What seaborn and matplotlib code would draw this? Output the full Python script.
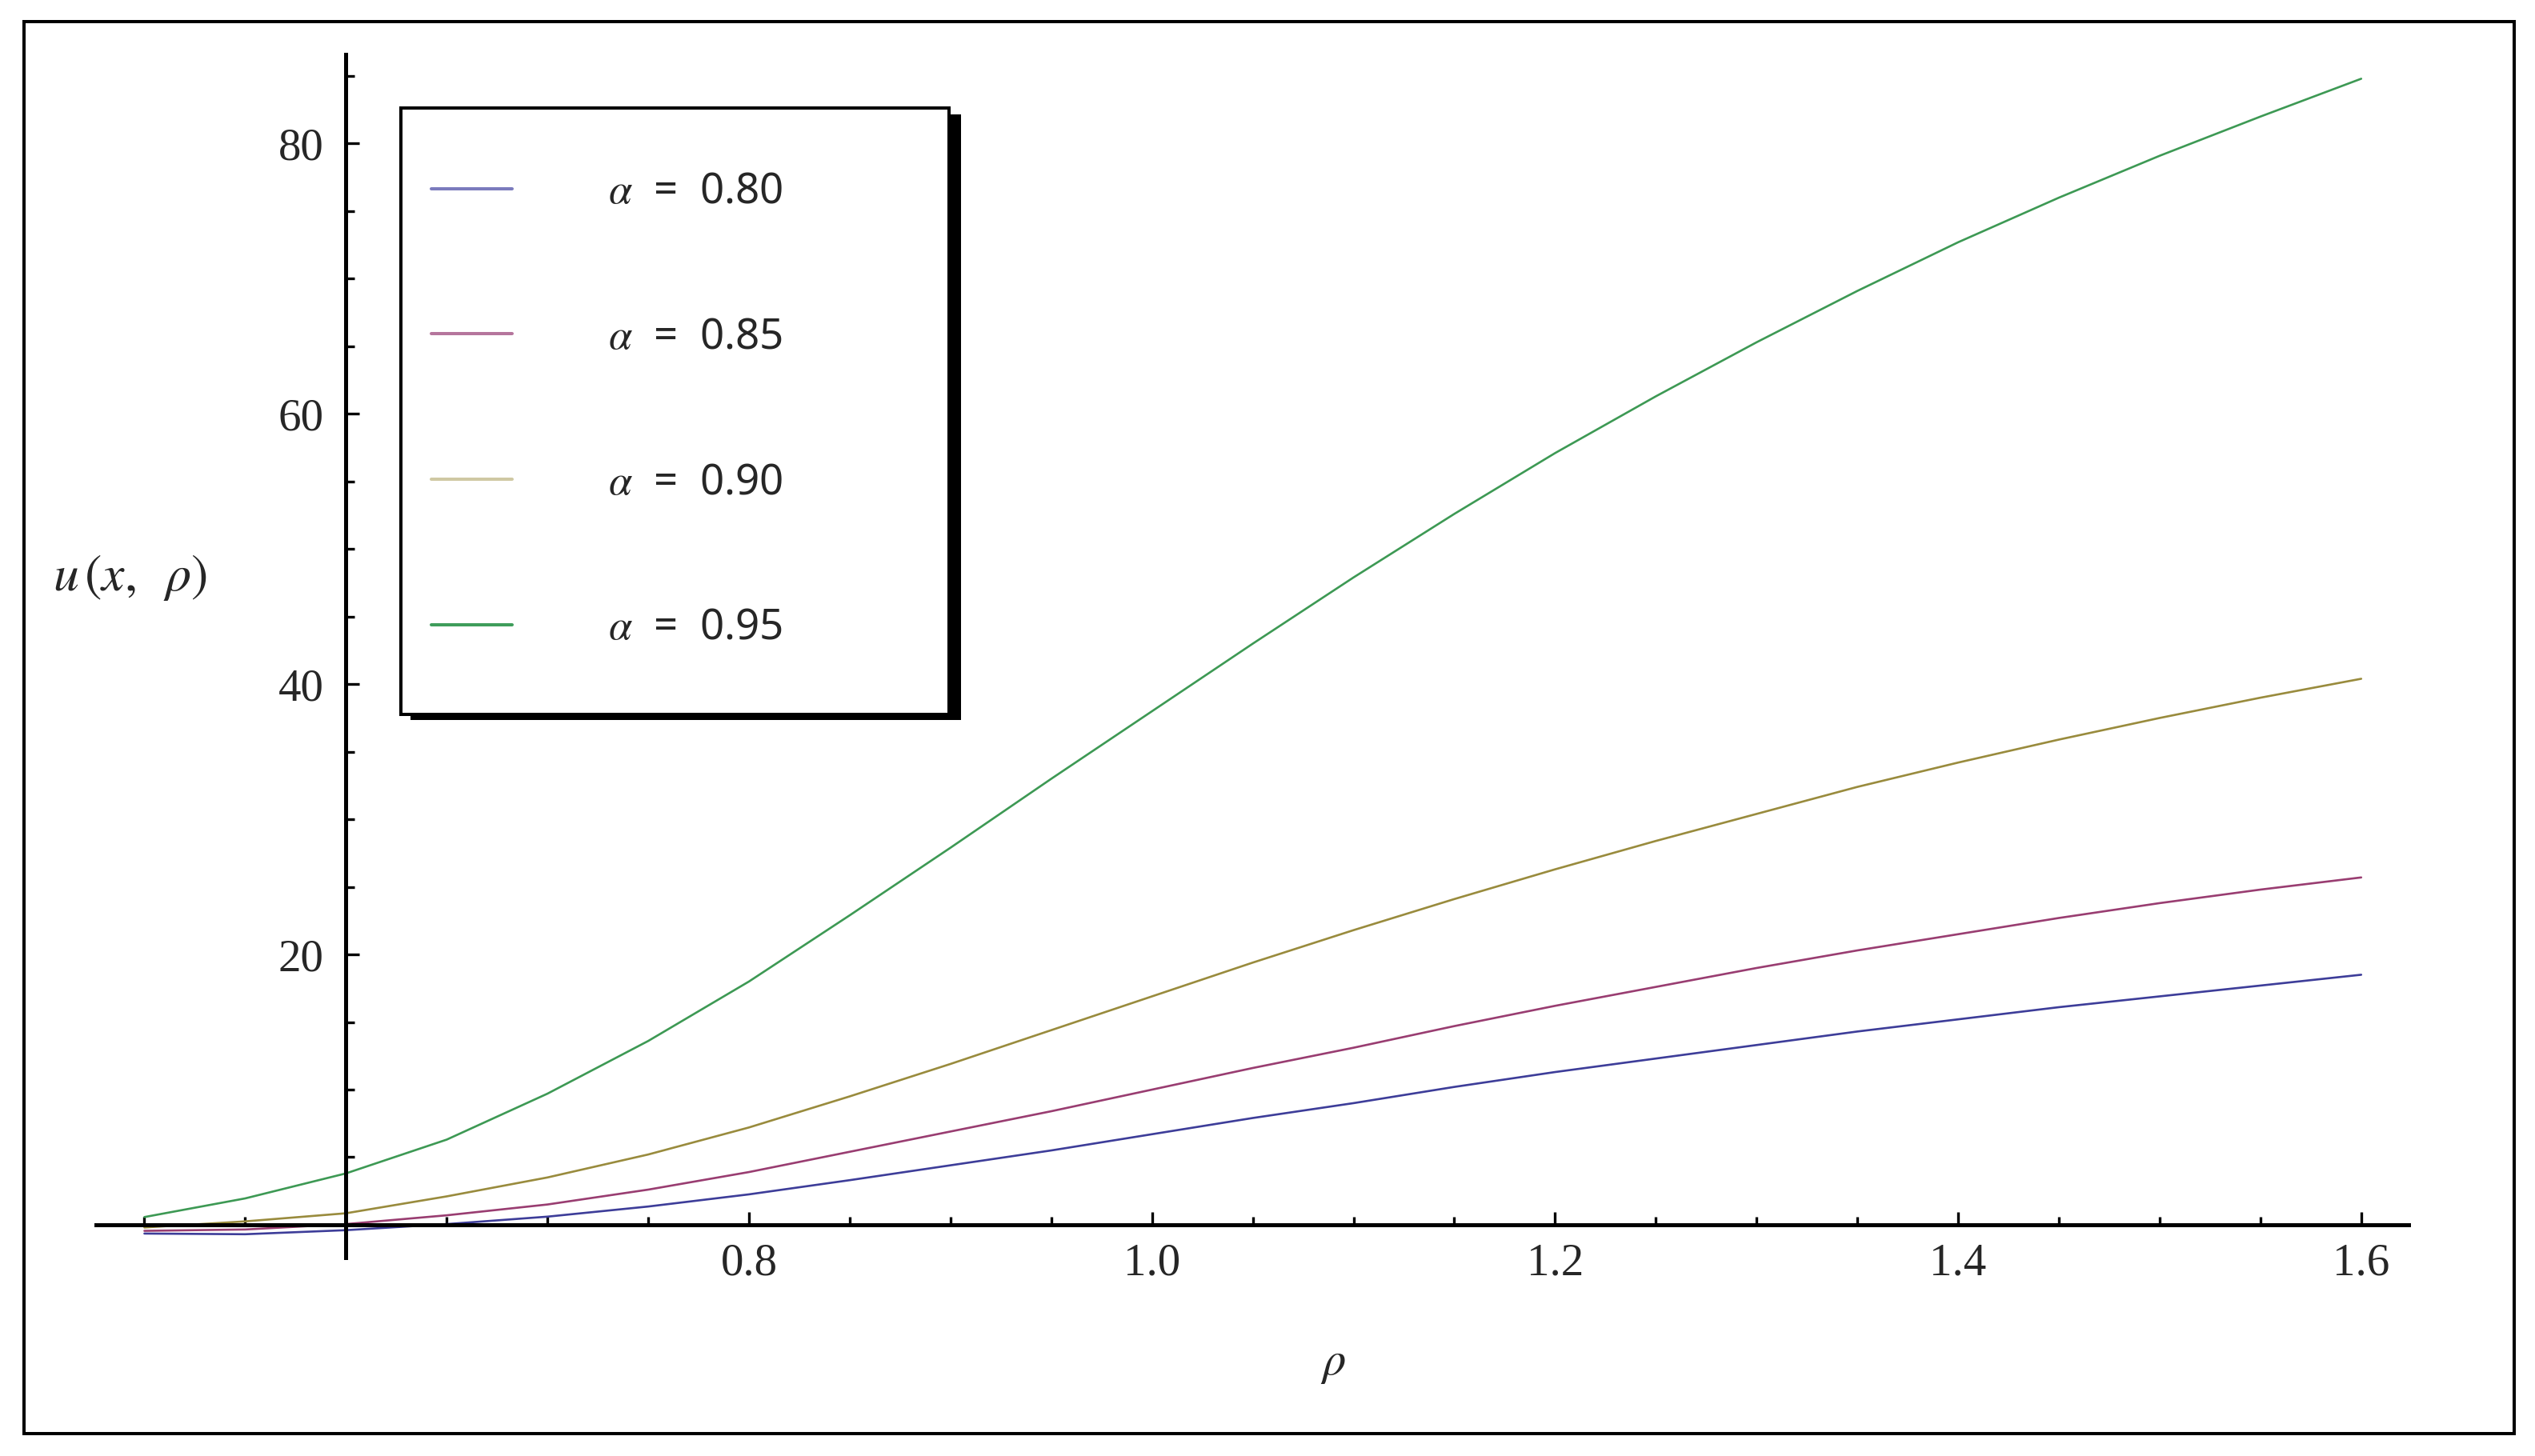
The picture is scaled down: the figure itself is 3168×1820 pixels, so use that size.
import numpy as np
import pandas as pd
import matplotlib
matplotlib.use("Agg")
import matplotlib.pyplot as plt
from matplotlib.lines import Line2D
from matplotlib.patches import Rectangle
from matplotlib.ticker import FixedLocator
from matplotlib.font_manager import FontProperties
import seaborn as sns

# values
rho = [0.50, 0.55, 0.60, 0.65, 0.70, 0.75, 0.80, 0.85, 0.90, 0.95, 1.00, 1.05,
       1.10, 1.15, 1.20, 1.25, 1.30, 1.35, 1.40, 1.45, 1.50, 1.55, 1.60]
u_080 = [-0.65, -0.7, -0.4, 0.05, 0.6, 1.35, 2.25, 3.3, 4.4, 5.5, 6.7, 7.9,
         9.0, 10.2, 11.3, 12.3, 13.3, 14.3, 15.2, 16.1, 16.9, 17.7, 18.5]
u_085 = [-0.45, -0.35, 0.05, 0.7, 1.5, 2.6, 3.9, 5.4, 6.9, 8.4, 10.0, 11.6,
         13.1, 14.7, 16.2, 17.6, 19.0, 20.3, 21.5, 22.7, 23.8, 24.8, 25.7]
u_090 = [-0.2, 0.25, 0.85, 2.1, 3.5, 5.2, 7.2, 9.5, 11.9, 14.4, 16.9, 19.4,
         21.8, 24.1, 26.3, 28.4, 30.4, 32.4, 34.2, 35.9, 37.5, 39.0, 40.4]
u_095 = [0.57, 1.95, 3.8, 6.3, 9.7, 13.6, 18.0, 22.9, 27.9, 33.0, 38.0, 43.0,
         47.9, 52.6, 57.1, 61.3, 65.3, 69.1, 72.7, 76.0, 79.1, 82.0, 84.8]
alphas = ["0.80", "0.85", "0.90", "0.95"]
x_major = [0.8, 1.0, 1.2, 1.4, 1.6]
y_major = [20, 40, 60, 80]

line_colors = {"0.80": "#3d3d99", "0.85": "#993d71", "0.90": "#998b3d", "0.95": "#3d9954"}
legend_colors = ["#7b7bbd", "#b5759c", "#cfc8a3", "#3f9d5b"]

sns.set_theme(style="white")
plt.rcParams.update({
    "font.family": ["Liberation Serif", "DejaVu Serif"],
    "mathtext.fontset": "stix",
})

W, H = 3168, 1820
def fx(px):
    return px / W
def fy(py):
    return 1 - py / H

df = pd.DataFrame({
    "rho": rho * 4,
    "u": u_080 + u_085 + u_090 + u_095,
    "alpha": sum([[a] * len(rho) for a in alphas], []),
})

fig = plt.figure(figsize=(W / 100, H / 100), dpi=100)
ax = fig.add_axes([fx(120), fy(1572), (3010 - 120) / W, (1572 - 68) / H])
sns.lineplot(data=df, x="rho", y="u", hue="alpha", palette=line_colors,
             legend=False, ax=ax, linewidth=1.9)

ax.set_xlim(0.476, 1.6235)
ax.set_ylim(-2.43, 86.6)
for s in ["top", "right"]:
    ax.spines[s].set_visible(False)
ax.spines["left"].set_position(("data", 0.6))
ax.spines["bottom"].set_position(("data", 0))
for s in ["left", "bottom"]:
    ax.spines[s].set_linewidth(3.6)
    ax.spines[s].set_color("black")

ax.xaxis.set_major_locator(FixedLocator(x_major))
ax.xaxis.set_minor_locator(FixedLocator([r for r in rho if round(r * 100) % 20 != 0]))
ax.yaxis.set_major_locator(FixedLocator(y_major))
ax.yaxis.set_minor_locator(FixedLocator([v for v in range(5, 90, 5) if v % 20 != 0]))
ax.set_xticklabels(["0.8", "1.0", "1.2", "1.4", "1.6"])
ax.set_yticklabels([str(v) for v in y_major])
ax.tick_params(axis="x", which="both", bottom=True, top=False)
ax.tick_params(axis="y", which="both", left=True, right=False)
ax.tick_params(axis="x", which="major", direction="in", length=11.5, width=2.4,
               pad=16, labelsize=41, color="black")
ax.tick_params(axis="x", which="minor", direction="in", length=7.2, width=2.4, color="black")
ax.tick_params(axis="y", which="major", direction="in", length=12, width=2.4,
               pad=20, labelsize=41, color="black")
ax.tick_params(axis="y", which="minor", direction="in", length=8, width=2.4, color="black")
ax.set_xlabel("")
ax.set_ylabel("")
ax.grid(False)

# axis labels
fig.text(fx(66), fy(722), r"$u\,(x,\;\;\rho)$", fontsize=46, ha="left", va="center")
fig.text(fx(1666), fy(1706), r"$\rho$", fontsize=42, ha="center", va="center")

# legend box with shadow
ax.add_patch(Rectangle((fx(513), fy(900)), (1201 - 513) / W, (900 - 143) / H,
                       transform=fig.transFigure, facecolor="black", edgecolor="none",
                       clip_on=False, zorder=3))
ax.add_patch(Rectangle((fx(501), fy(893)), (1186 - 501) / W, (893 - 135) / H,
                       transform=fig.transFigure, facecolor="white", edgecolor="black",
                       linewidth=2.9, clip_on=False, zorder=4))
handles = [Line2D([], [], color=c, linewidth=2.9) for c in legend_colors]
labels = [r"$\alpha$  =  " + a for a in alphas]
fs = 38
fs_px = fs * 100 / 72
ax.legend(handles, labels, loc="upper left", bbox_to_anchor=(fx(539), fy(214)),
          bbox_transform=fig.transFigure, frameon=False, borderpad=0, borderaxespad=0,
          handlelength=101 / fs_px, handletextpad=120 / fs_px, labelspacing=2.44,
          prop=FontProperties(family="Noto Sans", size=fs)).set_zorder(5)

# outer frame
fig.add_artist(Rectangle((fx(30), fy(1792)), (3142 - 30) / W, (1792 - 27) / H,
                         transform=fig.transFigure, fill=False, edgecolor="black",
                         linewidth=2.9))

fig.savefig("out.png", dpi=100)
